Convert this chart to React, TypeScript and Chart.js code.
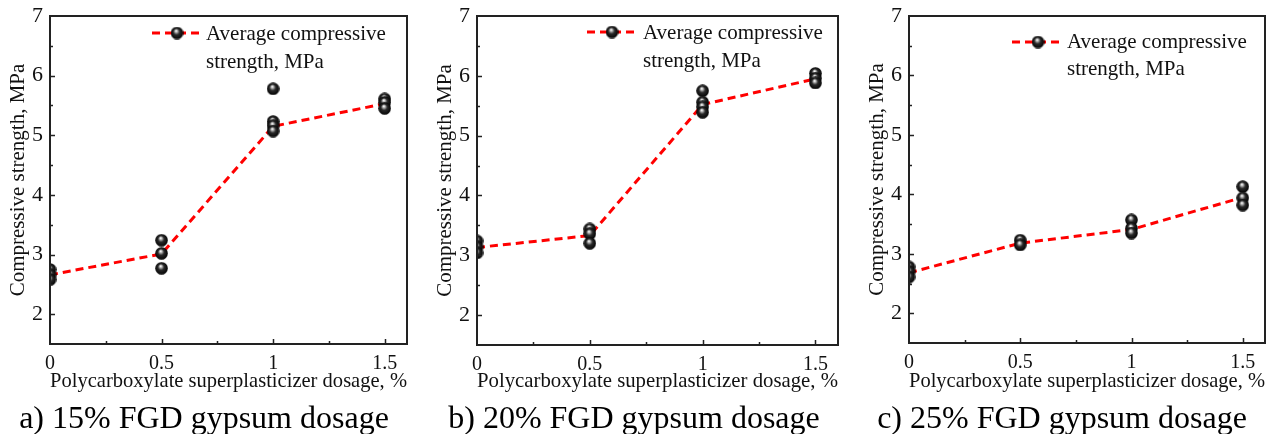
import React, { useEffect, useRef } from "react";
import { Chart, registerables } from "chart.js";

Chart.register(...registerables);

// ---------- data ----------
const dosage = [0, 0.5, 1, 1.5];
const xTickLabels = ["0", "0.5", "1", "1.5"];
const yTickLabels = ["2", "3", "4", "5", "6", "7"];

const samples15 = [
  [2.75, 2.66, 2.58],
  [3.24, 3.02, 2.77],
  [5.78, 5.23, 5.16, 5.07],
  [5.61, 5.55, 5.45],
];
const average15 = [2.66, 3.01, 5.15, 5.53];

const samples20 = [
  [3.24, 3.14, 3.04],
  [3.44, 3.36, 3.2],
  [5.75, 5.56, 5.48, 5.39],
  [6.04, 5.96, 5.88],
];
const average20 = [3.13, 3.33, 5.52, 5.95];

const samples25 = [
  [2.78, 2.7, 2.61],
  [3.23, 3.15],
  [3.57, 3.43, 3.35],
  [4.13, 3.94, 3.82],
];
const average25 = [2.68, 3.18, 3.41, 3.95];

const captions = [
  "a) 15% FGD gypsum dosage",
  "b) 20% FGD gypsum dosage",
  "c) 25% FGD gypsum dosage",
];
const legendLines = ["Average compressive", "strength, MPa"];
const xTitle = "Polycarboxylate superplasticizer dosage, %";
const yTitle = "Compressive strength, MPa";

// ---------- layout (styles, not data) ----------
const FONT = "'Liberation Serif', 'Times New Roman', serif";
const CANVAS_H = 400;

type Panel = {
  samples: number[][];
  average: number[];
  caption: string;
  canvasLeft: number;
  width: number;
  area: { left: number; right: number; top: number; bottom: number };
  legend: { x0: number; x1: number; mx: number; y: number; tx: number; ty2: number };
  captionCenter: number;
};

const panels: Panel[] = [
  {
    samples: samples15,
    average: average15,
    caption: captions[0],
    canvasLeft: 0,
    width: 420,
    area: { left: 50, right: 407, top: 16, bottom: 344 },
    legend: { x0: 152, x1: 200, mx: 177, y: 33, tx: 206, ty2: 61 },
    captionCenter: 204,
  },
  {
    samples: samples20,
    average: average20,
    caption: captions[1],
    canvasLeft: 420,
    width: 430,
    area: { left: 57, right: 418, top: 16, bottom: 345 },
    legend: { x0: 167, x1: 218, mx: 192, y: 32, tx: 223, ty2: 60 },
    captionCenter: 634,
  },
  {
    samples: samples25,
    average: average25,
    caption: captions[2],
    canvasLeft: 850,
    width: 428,
    area: { left: 59, right: 415, top: 16, bottom: 343 },
    legend: { x0: 162, x1: 213, mx: 188, y: 42, tx: 217, ty2: 69 },
    captionCenter: 1062,
  },
];

function makeSphere(): HTMLCanvasElement {
  const c = document.createElement("canvas");
  c.width = 13;
  c.height = 13;
  const ctx = c.getContext("2d")!;
  const g = ctx.createRadialGradient(5.6, 4.2, 0.3, 6.5, 6.5, 6.5);
  g.addColorStop(0, "#ffffff");
  g.addColorStop(0.18, "#b0b0b0");
  g.addColorStop(0.45, "#2a2a2a");
  g.addColorStop(1, "#000000");
  ctx.fillStyle = g;
  ctx.beginPath();
  ctx.arc(6.5, 6.5, 6.3, 0, Math.PI * 2);
  ctx.fill();
  return c;
}

const isMult = (v: number, s: number) => Math.abs(v / s - Math.round(v / s)) < 1e-6;

function PanelChart({ p }: { p: Panel }) {
  const ref = useRef<HTMLCanvasElement | null>(null);
  useEffect(() => {
    if (!ref.current) return;
    const sphere = makeSphere();
    const pts: { x: number; y: number }[] = [];
    p.samples.forEach((arr, i) => arr.forEach((y) => pts.push({ x: dosage[i], y })));
    const avg = dosage.map((x, i) => ({ x, y: p.average[i] }));

    const framePlugin = {
      id: "frame",
      afterDraw(chart: any) {
        const { ctx, chartArea: a, scales } = chart;
        ctx.save();
        ctx.strokeStyle = "#222";
        ctx.lineWidth = 2;
        ctx.strokeRect(a.left, a.top, a.right - a.left, a.bottom - a.top);
        ctx.lineWidth = 1.5;
        ctx.beginPath();
        scales.x.ticks.forEach((t: any) => {
          const v = t.value;
          if (!isMult(v, 0.25) || v <= 0 || v > 1.6) return;
          const len = isMult(v, 0.5) ? 5 : 3;
          const px = Math.round(scales.x.getPixelForValue(v)) + 0.5;
          ctx.moveTo(px, a.bottom);
          ctx.lineTo(px, a.bottom - len);
        });
        scales.y.ticks.forEach((t: any) => {
          const v = t.value;
          if (!isMult(v, 0.5) || v <= 1.5 || v >= 7) return;
          const len = isMult(v, 1) ? 5 : 3;
          const py = Math.round(scales.y.getPixelForValue(v)) + 0.5;
          ctx.moveTo(a.left, py);
          ctx.lineTo(a.left + len, py);
        });
        ctx.stroke();
        // legend symbol
        const L = p.legend;
        ctx.strokeStyle = "#ff0000";
        ctx.lineWidth = 3;
        ctx.setLineDash([8, 5]);
        ctx.beginPath();
        ctx.moveTo(L.x0, L.y);
        ctx.lineTo(L.x1, L.y);
        ctx.stroke();
        ctx.setLineDash([]);
        ctx.drawImage(sphere, L.mx - sphere.width / 2, L.y - sphere.height / 2);
        ctx.restore();
      },
    };

    const chart = new Chart(ref.current, {
      type: "scatter",
      data: {
        datasets: [
          {
            label: "samples",
            data: pts,
            pointStyle: sphere as any,
            pointRadius: 6,
            order: 0,
          } as any,
          {
            label: "Average compressive strength, MPa",
            data: avg,
            showLine: true,
            borderColor: "#ff0000",
            borderWidth: 3,
            borderDash: [8, 5],
            pointRadius: 0,
            tension: 0,
            order: 1,
          } as any,
        ],
      },
      options: {
        animation: false,
        responsive: false,
        maintainAspectRatio: false,
        events: [],
        layout: {
          padding: {
            left: p.area.left - 50,
            right: p.width - p.area.right,
            top: p.area.top,
            bottom: 0,
          },
        },
        plugins: { legend: { display: false }, tooltip: { enabled: false } },
        scales: {
          x: {
            type: "linear",
            min: 0,
            max: 1.6,
            grid: { display: false, drawTicks: false },
            border: { display: false },
            afterFit: (s: any) => {
              s.height = CANVAS_H - p.area.bottom;
              s.paddingLeft = 0;
              s.paddingRight = 0;
            },
            ticks: {
              stepSize: 0.25,
              includeBounds: false,
              autoSkip: false,
              maxRotation: 0,
              padding: 8,
              color: "#111",
              font: { family: FONT, size: 20 },
              callback: (v: any) => (xTickLabels.includes(String(v)) ? String(v) : ""),
            },
            title: {
              display: true,
              text: xTitle,
              color: "#111",
              font: { family: FONT, size: 21 },
              padding: { top: 0, bottom: 6 },
            },
          },
          y: {
            type: "linear",
            min: 1.5,
            max: 7,
            grid: { display: false, drawTicks: false },
            border: { display: false },
            afterFit: (s: any) => {
              s.width = 50;
              s.paddingTop = 0;
              s.paddingBottom = 0;
            },
            ticks: {
              stepSize: 0.5,
              autoSkip: false,
              padding: 7,
              color: "#111",
              font: { family: FONT, size: 22 },
              callback: (v: any) => (yTickLabels.includes(String(v)) ? String(v) : ""),
            },
            title: {
              display: true,
              text: yTitle,
              color: "#111",
              font: { family: FONT, size: 21 },
              padding: { top: 6, bottom: 0 },
            },
          },
        },
      } as any,
      plugins: [framePlugin],
    });
    return () => chart.destroy();
  }, [p]);

  const L = p.legend;
  return (
    <>
      <canvas
        ref={ref}
        width={p.width}
        height={CANVAS_H}
        style={{ position: "absolute", left: p.canvasLeft, top: 0, width: p.width, height: CANVAS_H }}
      />
      <div
        style={{
          position: "absolute",
          left: p.canvasLeft + L.tx,
          top: L.y - 14,
          fontFamily: FONT,
          fontSize: 21,
          lineHeight: `${L.ty2 - L.y}px`,
          color: "#111",
          whiteSpace: "nowrap",
        }}
      >
        {legendLines.map((t, i) => (
          <div key={i}>{t}</div>
        ))}
      </div>
      <div
        style={{
          position: "absolute",
          left: p.captionCenter - 250,
          width: 500,
          top: 399,
          textAlign: "center",
          fontFamily: FONT,
          fontSize: 32,
          lineHeight: "36px",
          color: "#000",
          whiteSpace: "nowrap",
        }}
      >
        {p.caption}
      </div>
    </>
  );
}

export default function App() {
  return (
    <div
      style={{
        position: "absolute",
        left: 0,
        top: 0,
        width: 1278,
        height: 434,
        background: "#fff",
        overflow: "hidden",
      }}
    >
      {panels.map((p, i) => (
        <PanelChart key={i} p={p} />
      ))}
    </div>
  );
}
